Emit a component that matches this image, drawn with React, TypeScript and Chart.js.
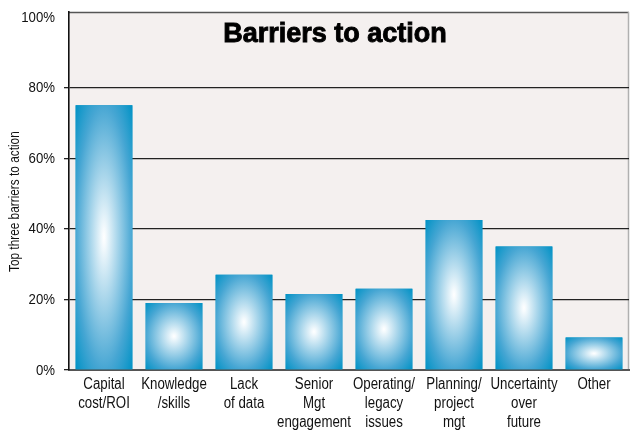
import React, { useEffect, useRef } from "react";
import { Chart, registerables } from "chart.js";

Chart.register(...registerables);

const categories: string[][] = [
  ["Capital", "cost/ROI"],
  ["Knowledge", "/skills"],
  ["Lack", "of data"],
  ["Senior", "Mgt", "engagement"],
  ["Operating/", "legacy", "issues"],
  ["Planning/", "project", "mgt"],
  ["Uncertainty", "over", "future"],
  ["Other"],
];
const values: number[] = [75, 19, 27, 21.5, 23, 42.5, 35, 9.2];
const yTicks: number[] = [0, 20, 40, 60, 80, 100];
const titleText = "Barriers to action";
const yTitle = "Top three barriers to action";

const FONT = "'Liberation Sans', Arial, sans-serif";

const bgPlugin = {
  id: "bgPlugin",
  beforeDraw(chart: any) {
    const { ctx, chartArea } = chart;
    const { left, top, right, bottom } = chartArea;
    ctx.save();
    ctx.fillStyle = "#f4f0ef";
    ctx.fillRect(left, top, right - left, bottom - top);
    ctx.strokeStyle = "#555555";
    ctx.lineWidth = 1.5;
    ctx.beginPath();
    ctx.moveTo(left, top + 0.5);
    ctx.lineTo(right, top + 0.5);
    ctx.stroke();
    ctx.strokeStyle = "#b0b0b0";
    ctx.lineWidth = 1.5;
    ctx.beginPath();
    ctx.moveTo(right - 0.5, top);
    ctx.lineTo(right - 0.5, bottom);
    ctx.stroke();
    ctx.restore();
  },
};

const gradPlugin = {
  id: "gradPlugin",
  afterDatasetsDraw(chart: any) {
    const { ctx } = chart;
    const meta = chart.getDatasetMeta(0);
    meta.data.forEach((bar: any) => {
      const p = bar.getProps(["x", "y", "base", "width"], true);
      const x0 = p.x - p.width / 2;
      const w = p.width;
      const y0 = Math.min(p.y, p.base);
      const h = Math.abs(p.base - p.y);
      const cx = x0 + w / 2;
      const cy = y0 + h / 2;
      ctx.save();
      ctx.beginPath();
      ctx.rect(x0, y0, w, h);
      ctx.clip();
      ctx.translate(cx, cy);
      ctx.scale(w / 2, h / 2);
      const g = ctx.createRadialGradient(0, 0, 0, 0, 0, 1.414);
      g.addColorStop(0, "#ffffff");
      g.addColorStop(0.05, "#f4fafd");
      g.addColorStop(0.707, "#46a6d3");
      g.addColorStop(1, "#0092c5");
      ctx.fillStyle = g;
      ctx.fillRect(-1.5, -1.5, 3, 3);
      ctx.restore();
    });
  },
};

function drawCondensed(ctx: any, text: string, x: number, y: number, sx: number, align: string) {
  ctx.save();
  ctx.translate(x, y);
  ctx.scale(sx, 1);
  ctx.textAlign = align;
  ctx.fillText(text, 0, 0);
  ctx.restore();
}

const textPlugin = {
  id: "textPlugin",
  afterDraw(chart: any) {
    const { ctx, chartArea, scales } = chart;
    const xs = scales.x;
    const ys = scales.y;
    ctx.save();
    ctx.fillStyle = "#111111";
    ctx.textBaseline = "middle";
    ctx.font = "16px " + FONT;
    // x labels
    categories.forEach((lines, i) => {
      const x = xs.getPixelForValue(i);
      lines.forEach((ln, k) => {
        drawCondensed(ctx, ln, x, chartArea.bottom + 15 + k * 19, 0.83, "center");
      });
    });
    // y labels
    ctx.font = "15px " + FONT;
    yTicks.forEach((v) => {
      const y = ys.getPixelForValue(v);
      drawCondensed(ctx, v + "%", chartArea.left - 14, y + 0.5, 0.88, "right");
    });
    // y title
    ctx.font = "14px " + FONT;
    ctx.textBaseline = "alphabetic";
    ctx.save();
    ctx.translate(18.5, chartArea.bottom - 98);
    ctx.rotate(-Math.PI / 2);
    ctx.scale(0.845, 1);
    ctx.textAlign = "left";
    ctx.fillText(yTitle, 0, 0);
    ctx.restore();
    // chart title
    ctx.font = "bold 27px " + FONT;
    ctx.fillStyle = "#000000";
    ctx.strokeStyle = "#000000";
    ctx.lineWidth = 0.9;
    ctx.textAlign = "center";
    const cx = (chartArea.left + chartArea.right) / 2 - 14;
    ctx.fillText(titleText, cx, chartArea.top + 30);
    ctx.strokeText(titleText, cx, chartArea.top + 30);
    ctx.restore();
  },
};

export default function App() {
  const ref = useRef<HTMLCanvasElement | null>(null);
  useEffect(() => {
    document.body.style.margin = "0";
    const canvas = ref.current!;
    const chart = new Chart(canvas, {
      type: "bar",
      data: {
        labels: categories.map((c) => c.join(" ")),
        datasets: [
          {
            data: values,
            backgroundColor: "#0092c5",
            borderWidth: 0,
            barPercentage: 0.81,
            categoryPercentage: 1,
          },
        ],
      },
      options: {
        animation: false,
        responsive: false,
        maintainAspectRatio: false,
        layout: { padding: { top: 12, right: 1, left: 0, bottom: 0 } },
        plugins: { legend: { display: false }, tooltip: { enabled: false }, title: { display: false } },
        scales: {
          x: {
            grid: { display: false, drawTicks: false },
            border: { display: true, color: "#555555", width: 2 },
            ticks: { display: false },
            afterFit(scale: any) {
              scale.height = 62;
            },
          },
          y: {
            min: 0,
            max: 101.4,
            afterBuildTicks(scale: any) {
              scale.ticks = yTicks.map((v) => ({ value: v }));
            },
            grid: {
              color: (c: any) => (c.tick && (c.tick.value === 0 || c.tick.value === 100) ? "rgba(0,0,0,0)" : "#222222"),
              lineWidth: 1.3,
              tickLength: 5,
              tickColor: (c: any) => (c.tick && c.tick.value === 100 ? "rgba(0,0,0,0)" : "#222222"),
            },
            border: { display: true, color: "#111111", width: 1.6 },
            ticks: { display: false },
            title: { display: false },
            afterFit(scale: any) {
              scale.width = 69;
            },
          },
        },
      },
      plugins: [bgPlugin, gradPlugin, textPlugin],
    });
    return () => chart.destroy();
  }, []);
  return (
    <div style={{ position: "absolute", left: 0, top: 0, width: 630, height: 432 }}>
      <canvas ref={ref} width={630} height={432} style={{ width: 630, height: 432 }} />
    </div>
  );
}
